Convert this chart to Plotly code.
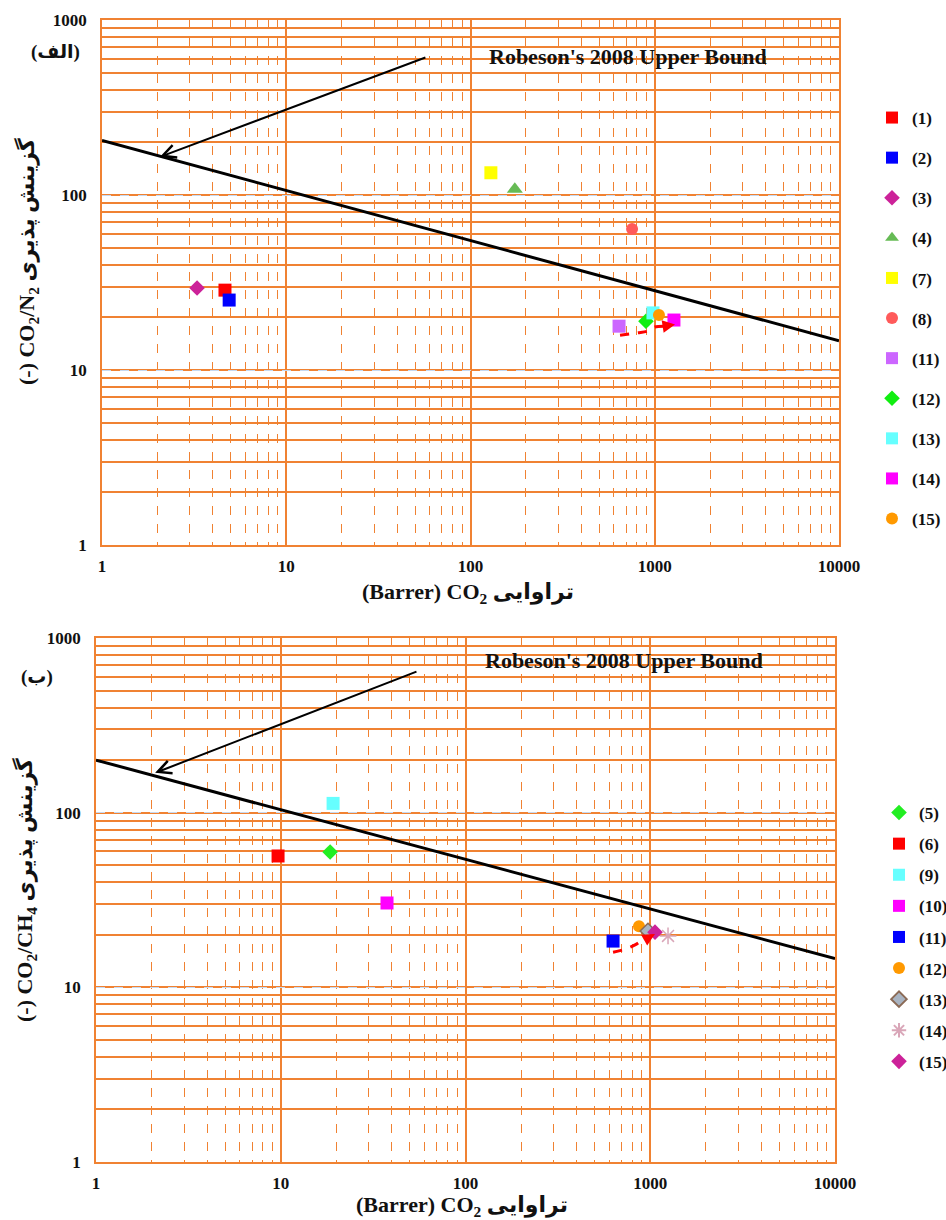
import numpy as np
import plotly.graph_objects as go

# ---------------- data ----------------
# Top chart (CO2/N2)
top_labels = ["(1)", "(2)", "(3)", "(4)", "(7)", "(8)", "(11)", "(12)", "(13)", "(14)", "(15)"]
top_perm = [4.65, 4.9, 3.28, 174, 129, 753, 640, 896, 978, 1271, 1054]
top_sel = [28.6, 25.1, 29.4, 108, 134, 64, 17.8, 19.0, 21.2, 19.3, 20.6]

# Bottom chart (CO2/CH4)
bot_labels = ["(5)", "(6)", "(9)", "(10)", "(11)", "(12)", "(13)", "(14)", "(15)"]
bot_perm = [18.5, 9.67, 19.2, 37.6, 629, 869, 972, 1248, 1061]
bot_sel = [59.5, 56.5, 113, 30.4, 18.4, 22.4, 21.0, 19.7, 20.7]

# Robeson 2008 upper bound end points
top_bound_x = [1, 10000]
top_bound_y = [205, 14.7]
bot_bound_x = [1, 10000]
bot_bound_y = [200, 14.6]

# black pointer arrows (tail, head)
top_ptr_x = [58, 2.06]
top_ptr_y = [615, 165]
bot_ptr_x = [55.3, 2.09]
bot_ptr_y = [647, 169]

# red dashed trend arrows
top_trend_x = [648, 800, 919, 1000, 1130, 1288]
top_trend_y = [15.8, 16.3, 16.7, 17.6, 17.8, 18.2]
bot_trend_x = [629, 740, 827, 937, 1000, 1061]
bot_trend_y = [15.9, 16.6, 17.5, 19.0, 19.5, 20.2]

# ---------------- styles ----------------
top_styles = [
    dict(symbol="square", color="#FF0000", size=13),
    dict(symbol="square", color="#0000FF", size=13),
    dict(symbol="diamond", color="#CC2299", size=12),
    dict(symbol="triangle-up", color="#66BB55", size=14),
    dict(symbol="square", color="#FFFF00", size=13),
    dict(symbol="circle", color="#FF5A5A", size=12),
    dict(symbol="square", color="#CC66FF", size=13),
    dict(symbol="diamond", color="#11EE11", size=12),
    dict(symbol="square", color="#66FFFF", size=13),
    dict(symbol="square", color="#FF00FF", size=13),
    dict(symbol="circle", color="#FF9900", size=12),
]
bot_styles = [
    dict(symbol="diamond", color="#22EE22", size=12),
    dict(symbol="square", color="#FF0000", size=13),
    dict(symbol="square", color="#66FFFF", size=13),
    dict(symbol="square", color="#FF00FF", size=13),
    dict(symbol="square", color="#0000FF", size=13),
    dict(symbol="circle", color="#FF9900", size=12),
    dict(symbol="diamond", color="#A9B4C2", size=12, line=dict(color="#8B6A55", width=1.5)),
    dict(symbol="asterisk-open", color="#D9A6B8", size=14, line=dict(color="#D9A6B8", width=1.5)),
    dict(symbol="diamond", color="#CC2299", size=12),
]

W, H = 946, 1220
ORANGE = "#F08232"
SERIF = "Liberation Serif, DejaVu Sans"

def px_x(a, b):
    return [a / W, b / W]

def px_y(top, bottom):
    return [1 - bottom / H, 1 - top / H]

fig = go.Figure()

# bound lines
fig.add_trace(go.Scatter(x=top_bound_x, y=top_bound_y, mode="lines",
                         line=dict(color="black", width=3), showlegend=False,
                         xaxis="x", yaxis="y", hoverinfo="skip"))
fig.add_trace(go.Scatter(x=bot_bound_x, y=bot_bound_y, mode="lines",
                         line=dict(color="black", width=3), showlegend=False,
                         xaxis="x2", yaxis="y2", hoverinfo="skip"))

# trend arrows (dashed part)
fig.add_trace(go.Scatter(x=top_trend_x[:-1], y=top_trend_y[:-1], mode="lines",
                         line=dict(color="#FF0000", width=3, dash="dash", shape="spline"),
                         showlegend=False, xaxis="x", yaxis="y", hoverinfo="skip"))
fig.add_trace(go.Scatter(x=bot_trend_x[:-1], y=bot_trend_y[:-1], mode="lines",
                         line=dict(color="#FF0000", width=3, dash="dash", shape="spline"),
                         showlegend=False, xaxis="x2", yaxis="y2", hoverinfo="skip"))

# points
for lab, xv, yv, st in zip(top_labels, top_perm, top_sel, top_styles):
    mk = dict(symbol=st["symbol"], color=st["color"], size=st["size"],
              line=st.get("line", dict(width=0)))
    fig.add_trace(go.Scatter(x=[xv], y=[yv], mode="markers", name=lab, marker=mk,
                             xaxis="x", yaxis="y", legend="legend", legendgroup="t" + lab))
for lab, xv, yv, st in zip(bot_labels, bot_perm, bot_sel, bot_styles):
    mk = dict(symbol=st["symbol"], color=st["color"], size=st["size"],
              line=st.get("line", dict(width=0)))
    fig.add_trace(go.Scatter(x=[xv], y=[yv], mode="markers", name=lab, marker=mk,
                             xaxis="x2", yaxis="y2", legend="legend2", legendgroup="b" + lab))

tickfont = dict(family=SERIF, size=17, color="#111", weight="bold")

def xaxis_cfg(dom, anchor):
    return dict(type="log", range=[0, 4], domain=dom, anchor=anchor, automargin=False,
                tickvals=[1, 10, 100, 1000, 10000],
                ticktext=["1", "10", "100", "1000", "10000"],
                showgrid=True, gridcolor=ORANGE, gridwidth=1.5, griddash="solid",
                minor=dict(dtick="D1", showgrid=True, gridcolor=ORANGE, gridwidth=1.2, griddash="dash"),
                showline=True, linecolor=ORANGE, linewidth=1.5, mirror=True,
                ticks="", tickfont=tickfont, ticklabelstandoff=5, zeroline=False)

def yaxis_cfg(dom, anchor):
    return dict(type="log", range=[0, 3], domain=dom, anchor=anchor, automargin=False,
                tickvals=[1, 10, 100, 1000],
                ticktext=["1", "10", "100", "1000"],
                showgrid=True, gridcolor="#C6D9F0", gridwidth=1.2, griddash="dash",
                minor=dict(dtick="D1", showgrid=True, gridcolor=ORANGE, gridwidth=1.5, griddash="solid"),
                showline=True, linecolor=ORANGE, linewidth=1.5, mirror=True,
                ticks="", tickfont=tickfont, ticklabelstandoff=10, zeroline=False)

titlefont = dict(family=SERIF, size=22, color="#111", weight="bold")

def note(text, x, y, font, angle=0):
    return dict(text=text, x=x / W, y=1 - y / H, xref="paper", yref="paper", showarrow=False,
                xanchor="center", yanchor="middle", textangle=angle, font=font)

labfont = dict(family=SERIF, size=19, color="#111", weight="bold")
robfont = dict(family=SERIF, size=22, color="#111", weight="bold")

annotations = [
    note("(الف)", 55, 52, labfont),
    note("(ب)", 37, 677, labfont),
    note("Robeson's 2008 Upper Bound", 628, 57, robfont),
    note("Robeson's 2008 Upper Bound", 624, 660, robfont),
    note("(Barrer) CO<sub>2</sub> تراوایی", 468, 593, titlefont),
    note("(Barrer) CO<sub>2</sub> تراوایی", 462, 1206, titlefont),
    note("(-) CO<sub>2</sub>/N<sub>2</sub> گزینش پذیری", 27, 262, titlefont, -90),
    note("(-) CO<sub>2</sub>/CH<sub>4</sub> گزینش پذیری", 25, 890, titlefont, -90),
]
# black pointer arrows (log axes -> annotation coords in log10)
for (px_, py_, xr, yr) in [(top_ptr_x, top_ptr_y, "x", "y"), (bot_ptr_x, bot_ptr_y, "x2", "y2")]:
    annotations.append(dict(x=np.log10(px_[1]), y=np.log10(py_[1]), ax=np.log10(px_[0]), ay=np.log10(py_[0]),
                            xref=xr, yref=yr, axref=xr, ayref=yr, text="", showarrow=True,
                            arrowhead=5, arrowsize=1.3, arrowwidth=2, arrowcolor="black"))
# red arrow heads
for (tx, ty, xr, yr) in [(top_trend_x, top_trend_y, "x", "y"), (bot_trend_x, bot_trend_y, "x2", "y2")]:
    annotations.append(dict(x=np.log10(tx[-1]), y=np.log10(ty[-1]), ax=np.log10(tx[-2]), ay=np.log10(ty[-2]),
                            xref=xr, yref=yr, axref=xr, ayref=yr, text="", showarrow=True,
                            arrowhead=2, arrowsize=1.0, arrowwidth=2.5, arrowcolor="#FF0000"))

legfont = dict(family=SERIF, size=17, color="#111", weight="bold")

fig.update_layout(
    width=W, height=H, margin=dict(l=0, r=0, t=0, b=0, autoexpand=False),
    paper_bgcolor="white", plot_bgcolor="white",
    xaxis=xaxis_cfg(px_x(102, 839), "y"),
    yaxis=yaxis_cfg(px_y(20, 545), "x"),
    xaxis2=xaxis_cfg(px_x(96, 835), "y2"),
    yaxis2=yaxis_cfg(px_y(638, 1162), "x2"),
    legend=dict(x=872 / W, y=1 - 100 / H, xanchor="left", yanchor="top", font=legfont,
                tracegroupgap=15, bgcolor="rgba(0,0,0,0)", itemsizing="constant"),
    legend2=dict(x=879 / W, y=1 - 795 / H, xanchor="left", yanchor="top", font=legfont,
                 tracegroupgap=6, bgcolor="rgba(0,0,0,0)", itemsizing="constant"),
    annotations=annotations,
    showlegend=True,
)

fig.write_html("out.html")
